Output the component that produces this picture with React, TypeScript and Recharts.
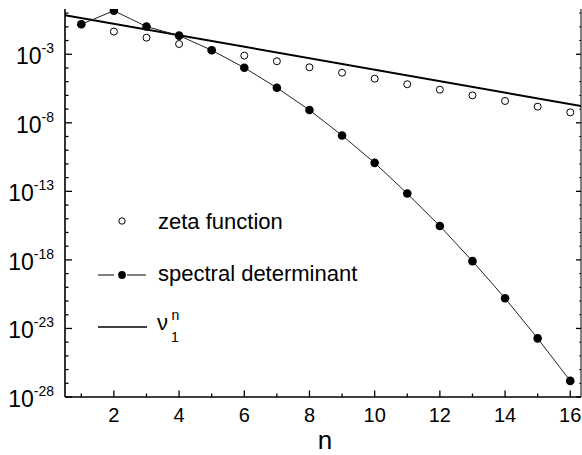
import React from 'react';
import { ComposedChart, Line, XAxis, YAxis, Legend } from 'recharts';

const nValues = [1, 2, 3, 4, 5, 6, 7, 8, 9, 10, 11, 12, 13, 14, 15, 16];
const zetaFunction = [
  0.155, 0.045, 0.0162, 5.6e-3, 1.95e-3, 7.9e-4, 3.1e-4, 1.12e-4, 4.5e-5, 1.66e-5, 6.5e-6, 2.6e-6, 1.0e-6,
  3.9e-7, 1.5e-7, 5.8e-8,
];
const spectralDeterminant = [
  0.155, 1.48, 0.105, 0.023, 1.95e-3, 1.05e-4, 3.6e-6, 8.5e-8, 1.2e-9, 1.2e-11, 6.9e-14, 2.95e-16, 8.1e-19,
  1.6e-21, 1.9e-24, 1.5e-27,
];
// nu_1^n is a straight line on the log axis, read at both plot edges
const nuLineN = [0.5, 16.33];
const nuLineValues = [0.71, 1.66e-7];

const xTicks = [1, 2, 3, 4, 5, 6, 7, 8, 9, 10, 11, 12, 13, 14, 15, 16];
const xLabelled = [2, 4, 6, 8, 10, 12, 14, 16];
const yTicks = [
  1e-28, 1e-27, 1e-26, 1e-25, 1e-24, 1e-23, 1e-22, 1e-21, 1e-20, 1e-19, 1e-18, 1e-17, 1e-16, 1e-15, 1e-14,
  1e-13, 1e-12, 1e-11, 1e-10, 1e-9, 1e-8, 1e-7, 1e-6, 1e-5, 1e-4, 1e-3, 1e-2, 1e-1, 1,
];
const yLabelled = [-28, -23, -18, -13, -8, -3];
const legendLabels = ['zeta function', 'spectral determinant'];

const FONT = '"Liberation Sans", Arial, Helvetica, sans-serif';

const zetaData = nValues.map((n, i) => ({ n, v: zetaFunction[i] }));
const specData = nValues.map((n, i) => ({ n, v: spectralDeterminant[i] }));
const nuData = nuLineN.map((n, i) => ({ n, v: nuLineValues[i] }));

const LeftTick = (props: any) => {
  const { x, y, payload } = props;
  const exp = Math.round(Math.log10(payload.value));
  const major = yLabelled.includes(exp);
  return (
    <g>
      <line x1={x} x2={x + (major ? 7 : 3.5)} y1={y} y2={y} stroke="#000" strokeWidth={1.3} />
      {major && (
        <text x={x - 11} y={y + 10} textAnchor="end" fontSize={23} fontFamily={FONT} fill="#000">
          10
          <tspan dy={-11} fontSize={14}>
            {exp}
          </tspan>
        </text>
      )}
    </g>
  );
};

const RightTick = (props: any) => {
  const { x, y, payload } = props;
  const exp = Math.round(Math.log10(payload.value));
  const major = yLabelled.includes(exp);
  return <line x1={x} x2={x - (major ? 5 : 2)} y1={y} y2={y} stroke="#000" strokeWidth={major ? 1.3 : 0.8} />;
};

const BottomTick = (props: any) => {
  const { x, y, payload } = props;
  const major = xLabelled.includes(payload.value);
  return (
    <g>
      <line x1={x} x2={x} y1={y} y2={y - (major ? 6.5 : 3.5)} stroke="#000" strokeWidth={1.3} />
      {major && (
        <text x={x} y={y + 25} textAnchor="middle" fontSize={20} fontFamily={FONT} fill="#000">
          {payload.value}
        </text>
      )}
    </g>
  );
};

const LegendBox = () => (
  <svg width={220} height={150} style={{ display: 'block', overflow: 'visible' }}>
    <g transform="translate(-90,-205)" fontFamily={FONT} fill="#000">
      <circle cx={122} cy={221} r={3.2} fill="#fff" stroke="#000" strokeWidth={1} />
      <text x={158} y={229} fontSize={22}>
        {legendLabels[0]}
      </text>
      <line x1={98} x2={114} y1={275} y2={275} stroke="#000" strokeWidth={1} />
      <line x1={127} x2={146} y1={275} y2={275} stroke="#000" strokeWidth={1} />
      <circle cx={122} cy={275} r={3.9} fill="#000" />
      <text x={158} y={281} fontSize={22}>
        {legendLabels[1]}
      </text>
      <line x1={98} x2={147} y1={327} y2={327} stroke="#000" strokeWidth={1.4} />
      <text x={157} y={330} fontSize={22}>
        ν
      </text>
      <text x={171} y={342} fontSize={14}>
        1
      </text>
      <text x={171.5} y={319.5} fontSize={14}>
        n
      </text>
    </g>
  </svg>
);

export default function App() {
  return (
    <div style={{ position: 'absolute', left: 0, top: 0, width: 582, height: 455, background: '#fff' }}>
      <ComposedChart width={582} height={455} margin={{ top: 9, right: 0, bottom: 0, left: 0 }}>
        <XAxis
          xAxisId="bottom"
          dataKey="n"
          type="number"
          domain={[0.5, 16.33]}
          allowDataOverflow
          ticks={xTicks}
          interval={0}
          height={58}
          tickSize={0}
          tickMargin={0}
          tickLine={false}
          axisLine={{ stroke: '#000', strokeWidth: 1.6 }}
          tick={<BottomTick />}
          label={{ value: 'n', position: 'insideBottom', offset: 6, dx: 2, fontSize: 26, fill: '#000', fontFamily: FONT }}
        />
        <XAxis
          xAxisId="top"
          orientation="top"
          dataKey="n"
          type="number"
          domain={[0.5, 16.33]}
          allowDataOverflow
          height={0}
          tick={false}
          tickLine={false}
          axisLine={{ stroke: '#000', strokeWidth: 1 }}
        />
        <YAxis
          yAxisId="left"
          type="number"
          scale="log"
          domain={[1e-28, 2]}
          allowDataOverflow
          ticks={yTicks}
          interval={0}
          width={65}
          tickSize={0}
          tickMargin={0}
          tickLine={false}
          axisLine={{ stroke: '#000', strokeWidth: 1.6 }}
          tick={<LeftTick />}
        />
        <YAxis
          yAxisId="right"
          orientation="right"
          type="number"
          scale="log"
          domain={[1e-28, 2]}
          allowDataOverflow
          ticks={yTicks}
          interval={0}
          width={1}
          tickSize={0}
          tickMargin={0}
          tickLine={false}
          axisLine={{ stroke: '#000', strokeWidth: 1 }}
          tick={<RightTick />}
        />
        <Legend
          layout="horizontal"
          verticalAlign="middle"
          align="center"
          content={<LegendBox />}
          wrapperStyle={{ left: 90, top: 205, width: 220, height: 150 }}
        />
        <Line
          xAxisId="bottom"
          yAxisId="left"
          data={nuData}
          dataKey="v"
          type="linear"
          stroke="#000"
          strokeWidth={2}
          dot={false}
          activeDot={false}
          isAnimationActive={false}
          legendType="none"
        />
        <Line
          xAxisId="bottom"
          yAxisId="left"
          data={zetaData}
          dataKey="v"
          type="linear"
          stroke="none"
          dot={{ r: 3.5, fill: '#fff', stroke: '#000', strokeWidth: 1 }}
          activeDot={false}
          isAnimationActive={false}
          legendType="none"
        />
        <Line
          xAxisId="bottom"
          yAxisId="left"
          data={specData}
          dataKey="v"
          type="linear"
          stroke="#222"
          strokeWidth={1}
          dot={{ r: 4.3, fill: '#000', stroke: 'none' }}
          activeDot={false}
          isAnimationActive={false}
          legendType="none"
        />
      </ComposedChart>
    </div>
  );
}
